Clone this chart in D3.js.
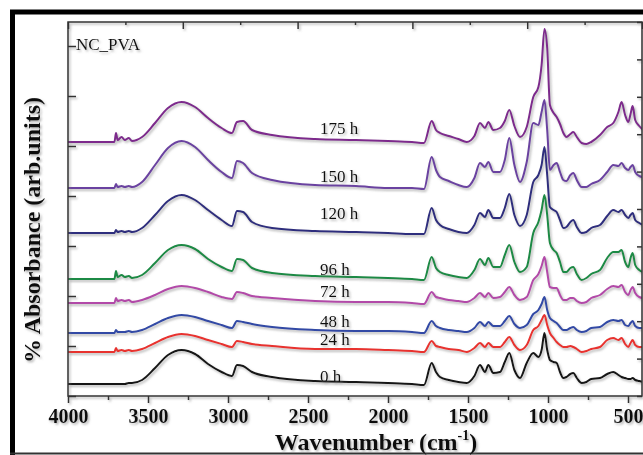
<!DOCTYPE html>
<html><head><meta charset="utf-8">
<script src="https://cdn.jsdelivr.net/npm/d3@7"></script>
<style>html,body{margin:0;padding:0;background:#fff;overflow:hidden}</style>
</head><body><svg id="c" width="643" height="455"></svg>
<script>
// ---- data ----
const wavenumbers = [4000,3800,3710,3700,3690,3665,3645,3620,3600,3537,3456,3375,3290,3206,3125,3040,2975,2944,2906,2850,2725,2456,2200,2000,1850,1775,
  1727,1700,1675,1620,1560,1508,1460,1425,1394,1373,1342,1300,1270,1242,1210,1175,1133,1092,1060,1040,1022,1005,988,965,946,925,904,885,860,842,820,790,760,730,675,630,592,560,540,518,498,484,471,455,430,406];
const seriesNames = ["0 h","24 h","48 h","72 h","96 h","120 h","150 h","175 h"];
const seriesColors = ["#151515","#e8312f","#3049a5","#b24aa8","#1c8a45","#2f2d7d","#6b42a0","#7d2a8c"];
const abs0h = [12,12,12,12,12,12,12,13,13,16,28,41,46,42,32,24,20,31,30,24,19,15,14,13,12,11,
  33,24,19,16,14,13,20,31,24,31,23,24,34,43,26,18,33,43,39,46,63,46,36,34,33,24,18,19,22,23,18,13,14,17,18,22,24,21,19,18,17,17,18,16,15,14];
const abs24h = [44,44,44,48,45,46,45,46,45,47,53,59,62,60,56,52,49,55,54,52,50,47,47,46,45,44,
  55,50,49,47,46,44,48,53,49,53,49,49,54,59,51,46,51,66,70,76,81,71,63,58,54,51,49,49,50,49,47,44,45,47,49,56,58,56,58,52,49,53,56,51,49,49];
const abs48h = [63,63,63,66,64,64,64,65,64,66,72,78,81,79,75,71,68,75,74,72,69,66,65,65,64,63,
  75,70,68,66,65,64,68,74,70,74,70,70,75,80,72,68,71,82,86,92,99,86,78,75,73,69,66,66,68,69,66,64,65,68,69,74,76,75,76,71,70,73,75,70,68,68];
const abs72h = [93,93,93,98,95,96,95,96,94,96,101,107,110,108,104,99,97,104,103,100,98,95,94,94,93,92,
  104,99,98,96,95,94,98,103,99,103,98,99,104,109,101,96,99,116,122,130,139,124,109,108,108,101,96,96,98,98,95,93,94,98,101,107,110,109,111,104,101,106,109,103,99,98];
const abs96h = [117,117,117,125,119,121,119,120,118,121,133,146,151,147,137,129,125,137,136,128,123,120,119,118,117,116,
  139,128,124,121,119,118,126,137,131,138,129,129,141,151,134,124,129,163,174,186,201,181,153,146,143,134,124,124,128,129,122,116,118,122,126,138,144,144,146,134,129,138,143,131,126,124];
const abs120h = [163,163,163,166,164,165,164,165,164,168,181,195,201,196,186,176,170,185,184,174,168,165,164,163,162,162,
  188,176,171,167,164,163,171,183,179,186,178,178,188,202,181,170,181,214,221,231,249,221,189,186,184,176,168,169,174,176,169,163,164,168,171,180,186,184,186,181,178,181,183,176,173,171];
const abs150h = [208,208,208,212,209,210,209,210,209,214,231,248,255,249,236,224,218,235,233,223,216,211,210,208,208,207,
  239,226,219,215,211,209,218,233,229,234,224,224,236,258,231,214,234,273,271,284,296,266,226,231,233,224,216,215,221,223,216,209,209,212,216,224,231,230,233,228,226,229,231,224,220,219];
const abs175h = [254,254,254,263,256,259,256,258,255,259,273,288,294,289,278,268,263,274,275,266,261,257,256,255,254,253,
  275,266,263,260,257,254,260,273,268,274,266,268,275,286,270,259,269,299,309,331,367,348,291,283,279,272,263,259,262,264,259,253,252,254,261,269,273,284,294,281,274,282,290,276,270,266];
const xTickValues = [4000,3500,3000,2500,2000,1500,1000,500];
const xMinorTickValues = [3750,3250,2750,2250,1750,1250,750];
const yTickValues = [0,50,100,150,200,250,300,350];
const sampleLabel = "NC_PVA";

const seriesValues = [abs0h,abs24h,abs48h,abs72h,abs96h,abs120h,abs150h,abs175h];

// ---- layout ----
const L = 68, R = 642, T = 22, B = 396;
const labelNudge = [4,0,0,-1,2,-9,0,-2];
const serif = "'Liberation Serif','Times New Roman',serif";
const svg = d3.select("#c");
const defs = svg.append("defs");
const f = defs.append("filter").attr("id","sh").attr("x","-20%").attr("y","-20%").attr("width","140%").attr("height","140%");
f.append("feDropShadow").attr("dx",1.5).attr("dy",1.8).attr("stdDeviation",1.2).attr("flood-color","#777").attr("flood-opacity",0.55);
defs.append("clipPath").attr("id","clip").append("rect").attr("x",L).attr("y",T-5).attr("width",R-L).attr("height",B-T+5);

// frame
svg.append("rect").attr("x",0).attr("y",0).attr("width",643).attr("height",455).attr("fill","#fff");
svg.append("line").attr("x1",10).attr("x2",643).attr("y1",12).attr("y2",12).attr("stroke","#000").attr("stroke-width",5);
svg.append("line").attr("x1",12.5).attr("x2",12.5).attr("y1",10).attr("y2",455).attr("stroke","#000").attr("stroke-width",5);
svg.append("line").attr("x1",10).attr("x2",643).attr("y1",453.5).attr("y2",453.5).attr("stroke","#333").attr("stroke-width",2);

const x = d3.scaleLinear().domain([4000,412.5]).range([L,R]);
const y = d3.scaleLinear().domain([0,374]).range([B,T]);
const yR = d3.scaleLinear().domain([0,10]).range([B,T]);
const xT = d3.scaleLinear().domain([0,10]).range([L,R]);

// series
const line = d3.line().x((d,i)=>x(wavenumbers[i])).y(d=>y(d)).curve(d3.curveMonotoneX);
const gS = svg.append("g").attr("clip-path","url(#clip)").append("g").attr("filter","url(#sh)");
seriesValues.forEach((vals,k)=>{
  gS.append("path").datum(vals).attr("d",line).attr("fill","none")
    .attr("stroke",seriesColors[k]).attr("stroke-width",2).attr("stroke-linejoin","round");
});

// axes
const axG = svg.append("g").attr("filter","url(#sh)");
const styleAxis = g => { g.select(".domain").remove(); g.selectAll("line").attr("stroke","#333").attr("stroke-width",1.5); };
axG.append("g").attr("transform",`translate(0,${B})`)
  .call(d3.axisBottom(x).tickValues(xTickValues).tickSize(7).tickPadding(6).tickFormat(d3.format("d")))
  .call(styleAxis)
  .call(g=>g.selectAll("text").attr("font-family",serif).attr("font-weight","bold").attr("font-size",20).attr("fill","#111"));
axG.append("g").attr("transform",`translate(0,${B})`)
  .call(d3.axisBottom(x).tickValues(xMinorTickValues).tickSize(4).tickFormat(""))
  .call(styleAxis);
axG.append("g").attr("transform",`translate(${L},0)`)
  .call(d3.axisRight(y).tickValues(yTickValues).tickSize(8).tickFormat(""))
  .call(styleAxis);
axG.append("g").attr("transform",`translate(${R},0)`)
  .call(d3.axisLeft(yR).ticks(10).tickSize(5).tickFormat(""))
  .call(styleAxis);
axG.append("g").attr("transform",`translate(0,${T})`)
  .call(d3.axisBottom(xT).ticks(10).tickFormat(""))
  .call(styleAxis)
  .call(g=>g.selectAll(".tick line").attr("y2",(d)=> d%2===0 ? 7 : 3));
axG.append("rect").attr("x",L).attr("y",T).attr("width",R-L).attr("height",B-T)
  .attr("fill","none").attr("stroke","#333").attr("stroke-width",1.5);

// labels
const tg = svg.append("g").attr("filter","url(#sh)").attr("font-family",serif).attr("fill","#111");
const labelWn = 2300;
const bis = d3.bisector(d=>-d).left;
seriesValues.forEach((vals,k)=>{
  const i = bis(wavenumbers, -labelWn);
  const w0 = wavenumbers[i-1], w1 = wavenumbers[i];
  const t = (w0-labelWn)/(w0-w1);
  const v = vals[i-1] + t*(vals[i]-vals[i-1]);
  tg.append("text").attr("x",320).attr("y",y(v)-4+labelNudge[k]).attr("font-size",17).text(seriesNames[k]);
});
tg.append("text").attr("x",76).attr("y",50).attr("font-size",17).text(sampleLabel);

const xt = tg.append("text").attr("x",376).attr("y",450).attr("text-anchor","middle")
  .attr("font-size",24).attr("font-weight","bold");
xt.append("tspan").text("Wavenumber (cm");
xt.append("tspan").attr("font-size",14).attr("dy",-10).text("-1");
xt.append("tspan").attr("dy",10).text(")");
tg.append("text").attr("transform","translate(40,230) rotate(-90)").attr("text-anchor","middle")
  .attr("font-size",24).attr("font-weight","bold").text("% Absorbance (arb.units)");
</script></body></html>
